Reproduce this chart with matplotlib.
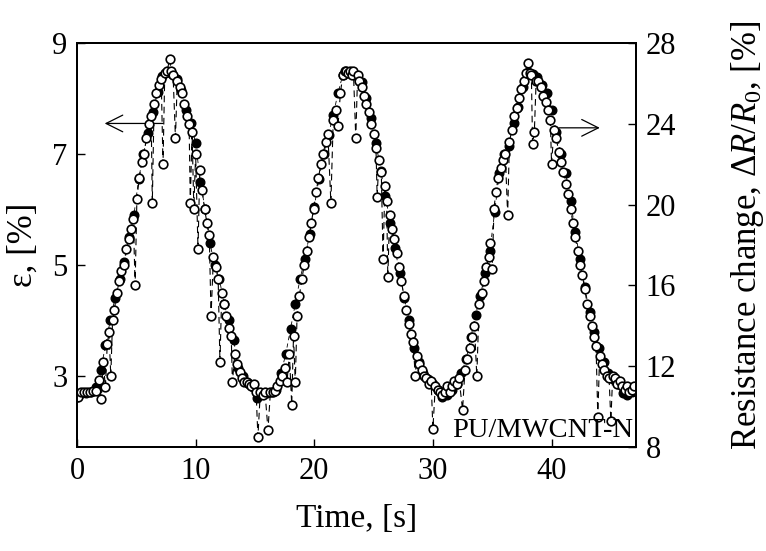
import matplotlib
matplotlib.use('Agg')
import matplotlib.pyplot as plt

plt.rcParams['font.family'] = ['Liberation Serif', 'DejaVu Serif']
plt.rcParams['mathtext.fontset'] = 'custom'
plt.rcParams['mathtext.rm'] = 'Liberation Serif'
plt.rcParams['mathtext.it'] = 'Liberation Serif:italic'

# strain, filled markers, left axis
t_strain = [0.0, 0.4, 0.8, 1.2, 1.6, 2.0, 2.4, 2.8, 3.2, 3.6, 4.0, 4.4, 4.8, 5.2, 5.6, 6.0,
            6.4, 6.8, 7.2, 7.6, 8.0, 8.4, 8.8, 9.2, 9.6, 10.0, 10.4, 10.8, 11.2, 11.6, 12.0,
            12.4, 12.8, 13.2, 13.6, 14.0, 14.4, 14.8, 15.2, 15.6, 16.0, 16.4, 16.8, 17.2, 17.6,
            18.0, 18.4, 18.8, 19.2, 19.6, 20.0, 20.4, 20.8, 21.2, 21.6, 22.0, 22.4, 22.8, 23.2,
            23.6, 24.0, 24.4, 24.8, 25.2, 25.6, 26.0, 26.4, 26.8, 27.2, 27.6, 28.0, 28.4, 28.8,
            29.2, 29.6, 30.0, 30.4, 30.8, 31.2, 31.6, 32.0, 32.4, 32.8, 33.2, 33.6, 34.0, 34.4,
            34.8, 35.2, 35.6, 36.0, 36.4, 36.8, 37.2, 37.6, 38.0, 38.4, 38.8, 39.2, 39.6, 40.0,
            40.4, 40.8, 41.2, 41.6, 42.0, 42.4, 42.8, 43.2, 43.6, 44.0, 44.4, 44.8, 45.2, 45.6,
            46.0, 46.4, 46.8]
strain = [2.62, 2.70, 2.70, 2.72, 2.80, 3.10, 3.55, 4.00, 4.40, 4.75, 5.05, 5.50, 5.90, 6.55,
          7.00, 7.38, 7.75, 8.12, 8.40, 8.48, 8.45, 8.35, 8.15, 7.80, 7.55, 7.20, 6.50, 6.00,
          5.40, 5.00, 4.75, 4.30, 4.00, 3.65, 3.15, 3.00, 2.87, 2.80, 2.60, 2.70, 2.70, 2.72,
          2.75, 3.05, 3.40, 3.85, 4.30, 4.75, 5.10, 5.55, 6.05, 6.55, 7.00, 7.35, 7.70, 8.10,
          8.42, 8.48, 8.47, 8.40, 8.30, 8.00, 7.65, 7.20, 6.70, 6.25, 5.75, 5.30, 4.85, 4.40,
          4.00, 3.50, 3.25, 3.05, 2.95, 2.85, 2.75, 2.62, 2.65, 2.75, 2.85, 3.05, 3.30, 3.70,
          4.10, 4.45, 4.85, 5.25, 5.95, 6.65, 7.00, 7.15, 7.55, 7.85, 8.20, 8.48, 8.45, 8.38,
          8.25, 8.10, 7.80, 7.40, 7.00, 6.65, 6.15, 5.60, 5.10, 4.60, 4.15, 3.80, 3.50, 3.25,
          3.05, 2.95, 2.85, 2.70, 2.65, 2.72]

# resistance change, open markers, right axis
t_res = [0.1, 0.35, 0.6, 0.85, 1.1, 1.35, 1.6, 1.85, 2.05, 2.2, 2.4, 2.55, 2.7, 2.85, 3.0,
         3.15, 3.35, 3.55, 3.75, 3.95, 4.15, 4.35, 4.55, 4.75, 4.9, 5.05, 5.25, 5.45, 5.65,
         5.85, 6.05, 6.25, 6.35, 6.5, 6.7, 6.9, 7.1, 7.25, 7.4, 7.6, 7.8, 7.95, 8.1, 8.3, 8.45,
         8.65, 8.85, 9.05, 9.25, 9.45, 9.55, 9.7, 9.85, 10.0, 10.2, 10.35, 10.55, 10.75, 10.95,
         11.15, 11.3, 11.5, 11.7, 11.9, 12.05, 12.2, 12.4, 12.6, 12.8, 13.0, 13.1, 13.3, 13.5,
         13.7, 13.9, 14.1, 14.3, 14.5, 14.7, 14.9, 15.1, 15.25, 15.45, 15.65, 15.85, 16.1, 16.3,
         16.5, 16.7, 16.9, 17.1, 17.3, 17.5, 17.7, 17.9, 18.1, 18.25, 18.4, 18.55, 18.75, 18.95,
         19.15, 19.35, 19.55, 19.75, 19.95, 20.15, 20.35, 20.55, 20.75, 20.95, 21.15, 21.4,
         21.6, 21.8, 22.0, 22.2, 22.4, 22.55, 22.7, 22.85, 23.0, 23.15, 23.3, 23.5, 23.65, 23.8,
         24.0, 24.2, 24.4, 24.6, 24.8, 25.0, 25.2, 25.3, 25.45, 25.65, 25.8, 25.95, 26.1, 26.2,
         26.35, 26.55, 26.75, 26.95, 27.15, 27.35, 27.55, 27.75, 27.95, 28.15, 28.35, 28.5,
         28.65, 28.85, 29.05, 29.25, 29.45, 29.65, 29.85, 30.0, 30.2, 30.4, 30.6, 30.8, 31.0,
         31.2, 31.4, 31.6, 31.8, 32.0, 32.2, 32.5, 32.7, 32.9, 33.1, 33.3, 33.5, 33.7, 33.9,
         34.1, 34.3, 34.5, 34.7, 34.85, 35.0, 35.15, 35.3, 35.5, 35.7, 35.9, 36.1, 36.3, 36.45,
         36.65, 36.85, 37.05, 37.25, 37.45, 37.65, 37.85, 38.0, 38.15, 38.3, 38.4, 38.55, 38.7,
         38.9, 39.1, 39.3, 39.5, 39.7, 39.9, 40.0, 40.2, 40.4, 40.6, 40.8, 41.0, 41.2, 41.4,
         41.6, 41.8, 42.0, 42.2, 42.4, 42.6, 42.8, 43.0, 43.2, 43.4, 43.6, 43.75, 43.9, 44.05,
         44.25, 44.45, 44.65, 44.85, 45.0, 45.15, 45.35, 45.55, 45.75, 45.95, 46.15, 46.35,
         46.55, 46.75, 46.95]
res = [10.5, 10.7, 10.7, 10.7, 10.7, 10.75, 10.75, 11.3, 10.4, 12.2, 10.97, 13.1, 13.7, 11.5,
       14.3, 14.8, 15.6, 16.2, 16.7, 17.0, 17.8, 18.3, 18.8, 19.3, 16.0, 20.3, 21.3, 22.1,
       22.5, 23.3, 24.0, 24.4, 20.1, 25.0, 25.5, 25.9, 26.2, 22.0, 26.5, 26.6, 27.2, 26.6,
       26.4, 23.3, 26.1, 25.8, 25.5, 25.0, 24.4, 24.0, 20.1, 23.6, 19.8, 22.5, 17.8, 21.7,
       20.7, 19.8, 19.1, 18.5, 14.5, 17.4, 16.9, 16.3, 12.2, 15.6, 15.1, 14.5, 13.9, 13.5,
       11.2, 12.6, 12.1, 11.7, 11.4, 11.2, 11.2, 11.1, 11.0, 11.1, 10.7, 8.5, 10.7, 10.6,
       10.7, 8.85, 10.7, 10.7, 10.75, 11.0, 11.25, 11.5, 11.9, 11.2, 12.6, 10.1, 13.5, 11.2,
       14.5, 15.5, 16.3, 17.0, 17.7, 18.4, 19.1, 19.8, 20.6, 21.3, 22.0, 22.5, 23.1, 23.5,
       20.1, 24.2, 24.7, 23.9, 25.5, 26.4, 26.6, 26.6, 26.5, 26.6, 26.4, 26.6, 23.3, 26.4,
       26.1, 25.8, 25.4, 25.0, 24.6, 24.0, 23.5, 22.8, 20.4, 22.2, 21.6, 17.3, 20.9, 20.2,
       16.4, 19.5, 18.8, 18.3, 17.6, 16.9, 16.2, 15.5, 14.8, 14.1, 13.6, 13.2, 11.5, 12.5,
       12.1, 11.8, 11.5, 11.4, 11.1, 11.25, 8.9, 11.0, 10.8, 10.7, 10.6, 10.7, 11.0, 10.7,
       11.0, 11.25, 11.1, 11.4, 9.85, 11.8, 12.35, 12.9, 13.45, 14.0, 11.5, 15.1, 15.6, 16.2,
       16.9, 17.4, 18.1, 16.8, 19.8, 20.6, 21.3, 21.8, 22.2, 22.5, 19.5, 23.1, 23.7, 24.4,
       24.8, 25.3, 25.7, 26.1, 26.5, 27.0, 26.5, 26.4, 23.0, 23.6, 26.1, 26.1, 25.8, 25.4,
       25.1, 24.7, 24.2, 22.0, 23.7, 23.3, 22.6, 22.1, 21.6, 21.0, 20.5, 19.8, 19.1, 18.4,
       17.7, 17.0, 16.5, 15.8, 15.1, 14.5, 14.0, 13.45, 13.0, 9.5, 12.5, 12.1, 11.8, 11.5,
       11.4, 9.3, 11.5, 11.4, 11.1, 11.25, 11.0, 10.8, 11.0, 10.7, 10.8, 11.0]

x_ticks = [0, 10, 20, 30, 40]
left_ticks = [3, 5, 7, 9]
right_ticks = [8, 12, 16, 20, 24, 28]

fig = plt.figure(figsize=(7.66, 5.51), dpi=100)
ax = fig.add_axes([0.1005, 0.1887, 0.7295, 0.7333])
ax2 = ax.twinx()

# strain underneath, resistance (open circles) drawn on top
ax.plot(t_strain, strain, linestyle=(0, (5, 4)), color='black', linewidth=0.6,
        marker='o', markersize=6.2, markerfacecolor='black', markeredgecolor='black',
        markeredgewidth=1.0)
ax2.plot(t_res, res, linestyle=(0, (6, 4)), color='black', linewidth=0.8,
         marker='o', markersize=6.2, markerfacecolor='white', markeredgecolor='black',
         markeredgewidth=1.2)

ax.set_xlim(0, 47.1)
ax.set_ylim(1.72, 9)
ax2.set_ylim(8, 28)
ax.set_xticks(x_ticks)
ax.set_yticks(left_ticks)
ax2.set_yticks(right_ticks)

for a in (ax, ax2):
    a.tick_params(direction='in', length=6, width=1.0, labelsize=22, pad=7)
    for s in a.spines.values():
        s.set_linewidth(1.4)

ax.set_xlabel('Time, [s]', fontsize=24, labelpad=13)
ax.set_ylabel('ε, [%]', fontsize=25)
ax.yaxis.set_label_coords(-0.066, 0.5)
ax2.set_ylabel(r'Resistance change, $\Delta R/R_0$, [%]', fontsize=25, rotation=90)
ax2.yaxis.label.set_va('center')
ax2.yaxis.set_label_coords(1.2, 0.525)

ax.annotate('', xy=(2.1, 7.55), xytext=(7.5, 7.55),
            arrowprops=dict(arrowstyle='->', lw=0.9, mutation_scale=30, color='black'))
ax2.annotate('', xy=(44.3, 23.8), xytext=(40.4, 23.8),
             arrowprops=dict(arrowstyle='->', lw=0.9, mutation_scale=30, color='black'))

ax2.text(0.995, 0.01, 'PU/MWCNT-N', transform=ax2.transAxes, ha='right', va='bottom',
         fontsize=20.5)

fig.savefig('out.png', dpi=100)
